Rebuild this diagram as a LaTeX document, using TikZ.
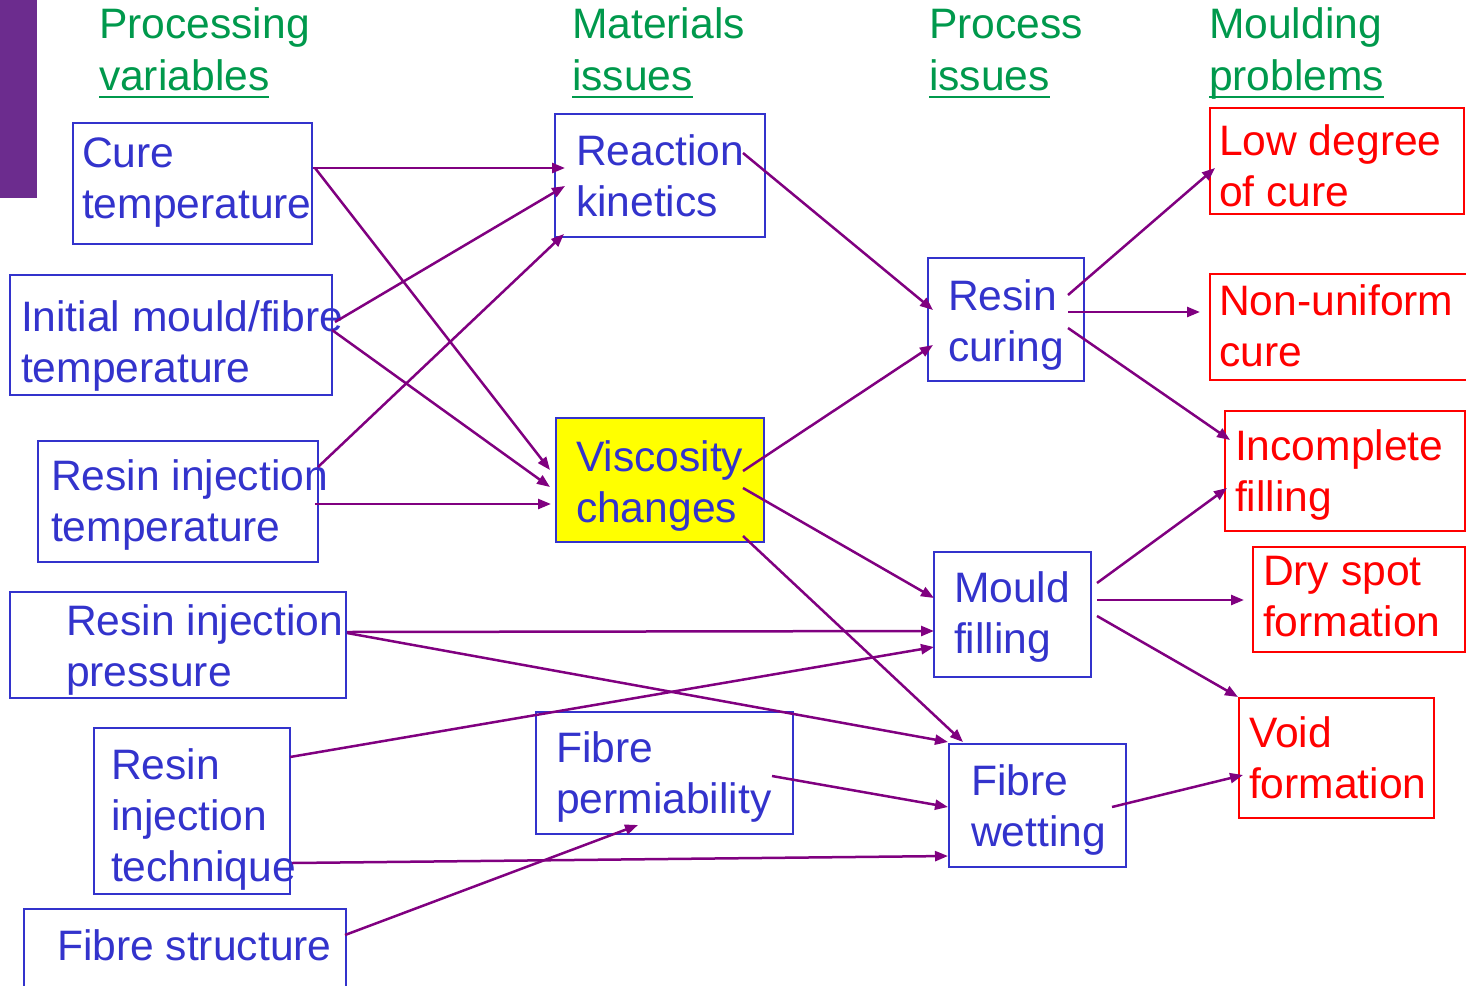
\documentclass[tikz,border=0pt]{standalone}
\usepackage{fontspec}
\setmainfont{Liberation Sans}
\usetikzlibrary{arrows.meta}
\definecolor{bblue}{RGB}{51,51,204}
\definecolor{rred}{RGB}{255,0,0}
\definecolor{ppl}{RGB}{128,0,128}
\definecolor{grn}{RGB}{0,153,76}
\definecolor{barc}{RGB}{108,44,142}
\definecolor{yel}{RGB}{255,255,0}
\newcommand{\myul}[1]{\setbox0\hbox{#1}\rlap{\rule[-4.2pt]{\wd0}{1.4pt}}\box0}
\begin{document}
\begin{tikzpicture}[x=0.5pt,y=-0.5pt,
 sz/.style 2 args={minimum width=#1*0.5pt, minimum height=#2*0.5pt},
 bx/.style={draw=bblue, line width=1.3pt, anchor=north west, inner sep=0pt, outer sep=0pt},
 rb/.style={draw=rred, line width=1.3pt, anchor=north west, inner sep=0pt, outer sep=0pt},
 tx/.style={anchor=north west, inner sep=0pt, outer sep=0pt, align=left, text=bblue, font=\fontsize{21.3pt}{25.5pt}\selectfont},
 rt/.style={tx, text=rred},
 hd/.style={tx, text=grn},
 ar/.style={draw=ppl, line width=1.25pt, -{Triangle[length=6.5pt,width=5pt]}}]
\useasboundingbox (0,0) rectangle (1466,985);
\node[fill=barc, anchor=north west, inner sep=0pt, outer sep=0pt, sz={37}{198}] (bar) at (0,0) {};
% headers
\node[hd] (h1) at (99,3.3) {\strut Processing\\\strut\myul{variables}};
\node[hd] (h2) at (572,3.3) {\strut Materials\\\strut\myul{issues}};
\node[hd] (h3) at (929,3.3) {\strut Process\\\strut\myul{issues}};
\node[hd] (h4) at (1209,3.3) {\strut Moulding\\\strut\myul{problems}};
% boxes
\node[bx, sz={239}{121}] (cure) at (73,123) {};
\node[bx, sz={210}{123}] (react) at (555,114) {};
\node[bx, sz={322}{120}] (init) at (10,275) {};
\node[bx, sz={280}{121}] (rit) at (38,441) {};
\node[bx, fill=yel, sz={208}{124}] (visc) at (556,418) {};
\node[bx, sz={156}{123}] (curing) at (928,258) {};
\node[bx, sz={157}{125}] (mould) at (934,552) {};
\node[bx, sz={336}{106}] (rip) at (10,592) {};
\node[bx, sz={196}{166}] (tech) at (94,728) {};
\node[bx, sz={257}{122}] (fperm) at (536,712) {};
\node[bx, sz={177}{123}] (wetting) at (949,744) {};
\node[bx, sz={322}{90}] (fstruct) at (24,909) {};
\node[rb, sz={254}{106}] (low) at (1210,108) {};
\node[rb, sz={270}{106}] (nonuni) at (1210,274) {};
\node[rb, sz={240}{120}] (incompl) at (1225,411) {};
\node[rb, sz={212}{105}] (dry) at (1253,547) {};
\node[rb, sz={195}{120}] (void) at (1239,698) {};
% texts
\node[tx] (cure-t) at ([shift={(9,8.3)}]cure.north west) {\strut Cure\\\strut temperature};
\node[tx] (react-t) at ([shift={(21,15.3)}]react.north west) {\strut Reaction\\\strut kinetics};
\node[tx] (init-t) at ([shift={(11,20.3)}]init.north west) {\strut Initial mould/fibre\\\strut temperature};
\node[tx] (rit-t) at ([shift={(13,13.3)}]rit.north west) {\strut Resin injection\\\strut temperature};
\node[tx] (visc-t) at ([shift={(20,17.3)}]visc.north west) {\strut Viscosity\\\strut changes};
\node[tx] (curing-t) at ([shift={(20,16.3)}]curing.north west) {\strut Resin\\\strut curing};
\node[tx] (mould-t) at ([shift={(20,14.3)}]mould.north west) {\strut Mould\\\strut filling};
\node[tx] (rip-t) at ([shift={(56,7.3)}]rip.north west) {\strut Resin injection\\\strut pressure};
\node[tx] (tech-t) at ([shift={(17,15.3)}]tech.north west) {\strut Resin\\\strut injection\\\strut technique};
\node[tx] (fperm-t) at ([shift={(20,14.3)}]fperm.north west) {\strut Fibre\\\strut permiability};
\node[tx] (wetting-t) at ([shift={(22,15.3)}]wetting.north west) {\strut Fibre\\\strut wetting};
\node[tx] (fstruct-t) at ([shift={(33,15.3)}]fstruct.north west) {\strut Fibre structure};
\node[rt] (low-t) at ([shift={(9,11.3)}]low.north west) {\strut Low degree\\\strut of cure};
\node[rt] (nonuni-t) at ([shift={(9,5.3)}]nonuni.north west) {\strut Non-uniform\\\strut cure};
\node[rt] (incompl-t) at ([shift={(10,13.3)}]incompl.north west) {\strut Incomplete\\\strut filling};
\node[rt] (dry-t) at ([shift={(10,2.3)}]dry.north west) {\strut Dry spot\\\strut formation};
\node[rt] (void-t) at ([shift={(10,13.3)}]void.north west) {\strut Void\\\strut formation};
% arrows
\draw[ar] ([shift={(240,45)}]cure.north west) -- ([shift={(10,54)}]react.north west);
\draw[ar] ([shift={(242,45)}]cure.north west) -- ([shift={(-6,52)}]visc.north west);
\draw[ar] ([shift={(325,47)}]init.north west) -- ([shift={(10,72)}]react.north west);
\draw[ar] ([shift={(322,55)}]init.north west) -- ([shift={(-6,69)}]visc.north west);
\draw[ar] ([shift={(280,26)}]rit.north west) -- ([shift={(9,120)}]react.north west);
\draw[ar] ([shift={(277,63)}]rit.north west) -- ([shift={(-5,86)}]visc.north west);
\draw[ar] ([shift={(188,39)}]react.north west) -- ([shift={(5,52)}]curing.north west);
\draw[ar] ([shift={(187,53)}]visc.north west) -- ([shift={(5,87)}]curing.north west);
\draw[ar] ([shift={(187,70)}]visc.north west) -- ([shift={(0,46)}]mould.north west);
\draw[ar] ([shift={(187,118)}]visc.north west) -- ([shift={(14,-2)}]wetting.north west);
\draw[ar] ([shift={(337,40)}]rip.north west) -- ([shift={(0,79)}]mould.north west);
\draw[ar] ([shift={(337,41)}]rip.north west) -- ([shift={(-1,-2)}]wetting.north west);
\draw[ar] ([shift={(196,29)}]tech.north west) -- ([shift={(0,95)}]mould.north west);
\draw[ar] ([shift={(198,135)}]tech.north west) -- ([shift={(-1,112)}]wetting.north west);
\draw[ar] ([shift={(321,26)}]fstruct.north west) -- ([shift={(102,113)}]fperm.north west);
\draw[ar] ([shift={(236,64)}]fperm.north west) -- ([shift={(-1,63)}]wetting.north west);
\draw[ar] ([shift={(140,37)}]curing.north west) -- ([shift={(5,60)}]low.north west);
\draw[ar] ([shift={(140,54)}]curing.north west) -- ([shift={(-10,38)}]nonuni.north west);
\draw[ar] ([shift={(140,70)}]curing.north west) -- ([shift={(5,29)}]incompl.north west);
\draw[ar] ([shift={(163,31)}]mould.north west) -- ([shift={(2,77)}]incompl.north west);
\draw[ar] ([shift={(163,48)}]mould.north west) -- ([shift={(-9,53)}]dry.north west);
\draw[ar] ([shift={(163,64)}]mould.north west) -- ([shift={(-1,-1)}]void.north west);
\draw[ar] ([shift={(163,63)}]wetting.north west) -- ([shift={(4,77)}]void.north west);
\end{tikzpicture}
\end{document}
